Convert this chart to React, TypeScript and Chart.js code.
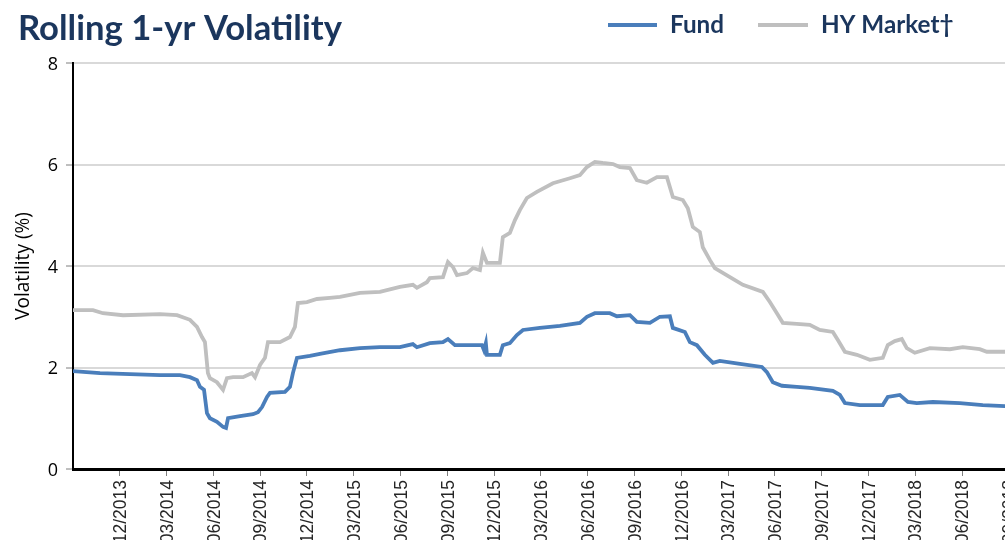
import React, { useEffect, useRef } from 'react';
import { Chart, registerables } from 'chart.js';

Chart.register(...registerables);

const TITLE = 'Rolling 1-yr Volatility';
const SERIES_NAMES = ['Fund', 'HY Market†'];
const Y_TITLE = 'Volatility (%)';

// x = months since end of 09/2013
const xTickLabels = [
  '12/2013', '03/2014', '06/2014', '09/2014', '12/2014', '03/2015', '06/2015',
  '09/2015', '12/2015', '03/2016', '06/2016', '09/2016', '12/2016', '03/2017',
  '06/2017', '09/2017', '12/2017', '03/2018', '06/2018', '09/2018',
];

const fundMonths = [
  0, 1.73, 3.65, 5.58, 6.86, 7.5, 7.95, 8.14, 8.4, 8.59, 8.78, 9.23, 9.62, 9.81, 9.94,
  10.71, 11.54, 11.86, 12.12, 12.44, 12.63, 13.59, 13.91, 14.1, 14.36, 15.19, 15.83,
  17.12, 18.4, 19.68, 20.96, 21.79, 22.05, 22.88, 23.72, 24.04, 24.49, 26.22, 26.35,
  26.47, 26.54, 27.37, 27.56, 28.01, 28.46, 28.85, 29.94, 31.22, 32.5, 32.95, 33.46,
  34.42, 34.87, 35.71, 36.15, 36.99, 37.63, 38.27, 38.46, 39.23, 39.55, 40.0, 40.51,
  41.03, 41.47, 42.76, 44.17, 44.49, 44.87, 45.45, 46.41, 47.24, 48.72, 49.17, 49.49,
  50.45, 51.92, 52.24, 53.01, 53.53, 54.1, 55.13, 56.86, 58.33, 59.74, 61, 62,
];
const fundValues = [
  1.93, 1.89, 1.87, 1.85, 1.85, 1.81, 1.75, 1.62, 1.56, 1.1, 1.0, 0.93, 0.83, 0.81, 1.0,
  1.04, 1.08, 1.12, 1.22, 1.42, 1.5, 1.52, 1.62, 1.89, 2.19, 2.23, 2.27,
  2.34, 2.38, 2.4, 2.4, 2.46, 2.4, 2.48, 2.5, 2.56, 2.44, 2.44, 2.34,
  2.48, 2.25, 2.25, 2.44, 2.48, 2.64, 2.74, 2.78, 2.82, 2.88, 3.0, 3.07,
  3.07, 3.01, 3.03, 2.9, 2.88, 3.0, 3.01, 2.78, 2.7, 2.5, 2.44, 2.25,
  2.09, 2.13, 2.07, 2.01, 1.91, 1.71, 1.64, 1.62, 1.6, 1.54, 1.46, 1.3,
  1.26, 1.26, 1.42, 1.46, 1.32, 1.3, 1.32, 1.3, 1.26, 1.24, 1.24, 1.24,
];

const hyMonths = [
  0, 1.28, 1.92, 3.21, 5.58, 6.67, 7.5, 7.95, 8.27, 8.46, 8.65, 8.78, 9.23, 9.62, 9.87,
  10.26, 10.9, 11.47, 11.67, 11.99, 12.31, 12.5, 13.27, 13.91, 14.23, 14.42, 15.0,
  15.64, 16.47, 17.12, 18.4, 19.68, 20.96, 21.79, 22.05, 22.69, 22.88, 23.72, 24.04,
  24.36, 24.62, 25.26, 25.64, 26.09, 26.28, 26.54, 27.37, 27.56, 28.01, 28.33, 28.65,
  29.1, 29.74, 30.77, 31.86, 32.5, 32.95, 33.46, 33.97, 34.62, 35.06, 35.71, 36.15,
  36.79, 37.44, 38.08, 38.46, 39.1, 39.42, 39.74, 40.19, 40.38, 40.83, 41.15, 42.12,
  42.95, 44.23, 44.68, 45.13, 45.51, 46.41, 47.24, 47.88, 48.72, 49.04, 49.49, 50.26,
  51.09, 51.92, 52.24, 52.69, 53.14, 53.46, 53.97, 54.94, 56.22, 57.05, 58.14, 58.59,
  59.74, 61, 62,
];
const hyValues = [
  3.13, 3.13, 3.07, 3.03, 3.05, 3.03, 2.94, 2.8, 2.6, 2.5, 1.89, 1.79, 1.71, 1.56, 1.79,
  1.81, 1.81, 1.89, 1.81, 2.05, 2.19, 2.5, 2.5, 2.6, 2.8, 3.27, 3.29,
  3.35, 3.37, 3.39, 3.47, 3.49, 3.59, 3.63, 3.57, 3.68, 3.76, 3.78, 4.08,
  3.98, 3.82, 3.86, 3.96, 3.92, 4.26, 4.06, 4.06, 4.57, 4.65, 4.9, 5.1,
  5.34, 5.46, 5.63, 5.73, 5.79, 5.95, 6.05, 6.03, 6.01, 5.95, 5.93, 5.69,
  5.64, 5.75, 5.75, 5.36, 5.3, 5.14, 4.77, 4.67, 4.37, 4.12, 3.96, 3.78,
  3.63, 3.49, 3.29, 3.07, 2.88, 2.86, 2.84, 2.74, 2.7, 2.54, 2.31, 2.25,
  2.15, 2.19, 2.44, 2.52, 2.56, 2.38, 2.29, 2.38, 2.36, 2.4, 2.36, 2.31,
  2.31, 2.31, 2.31,
];

const NAVY = '#1B365D';
const FUND_COLOR = '#4A7EBB';
const HY_COLOR = '#BFBFBF';

function fitSize(ctx: CanvasRenderingContext2D, text: string, font: string, target: number) {
  ctx.font = `100px ${font}`;
  const w = ctx.measureText(text).width;
  return (100 * target) / w;
}

// Draws title, legend, axis tick labels and axis title
const textPlugin = {
  id: 'texts',
  afterDraw(chart: any) {
    const ctx: CanvasRenderingContext2D = chart.ctx;
    const xs = chart.scales.x;
    const ys = chart.scales.y;
    const area = chart.chartArea;
    ctx.save();
    ctx.textAlign = 'left';
    ctx.textBaseline = 'alphabetic';

    // title
    ctx.fillStyle = NAVY;
    ctx.font = 'bold 100px Lato';
    const ts = (100 * 324) / ctx.measureText(TITLE).width;
    ctx.font = `bold ${ts}px Lato`;
    ctx.fillText(TITLE, 18, 40);

    // legend
    const items = [
      { name: SERIES_NAMES[0], color: FUND_COLOR, x0: 608, x1: 657, tx: 670 },
      { name: SERIES_NAMES[1], color: HY_COLOR, x0: 758, x1: 808, tx: 821 },
    ];
    ctx.font = 'bold 100px Lato';
    const lSize = (100 * 54) / ctx.measureText(SERIES_NAMES[0]).width;
    items.forEach((it) => {
      ctx.strokeStyle = it.color;
      ctx.lineWidth = 4;
      ctx.beginPath();
      ctx.moveTo(it.x0, 25);
      ctx.lineTo(it.x1, 25);
      ctx.stroke();
      ctx.fillStyle = NAVY;
      ctx.font = `bold ${lSize}px Lato`;
      ctx.fillText(it.name, it.tx, 33);
    });

    // y tick labels
    ctx.fillStyle = '#000000';
    ctx.font = "18px 'Open Sans'";
    ctx.textAlign = 'right';
    ctx.textBaseline = 'alphabetic';
    ys.ticks.forEach((t: any) => {
      ctx.fillText(String(t.value), area.left - 15, ys.getPixelForValue(t.value) + 6.5);
    });

    // y axis title
    const yTitleSize = fitSize(ctx, Y_TITLE, "'Open Sans'", 108);
    ctx.save();
    ctx.translate(22.5 + 0.36 * yTitleSize, (area.top + area.bottom) / 2);
    ctx.rotate(-Math.PI / 2);
    ctx.textAlign = 'center';
    ctx.textBaseline = 'alphabetic';
    ctx.font = `${yTitleSize}px 'Open Sans'`;
    ctx.fillText(Y_TITLE, 0, 0);
    ctx.restore();

    // x tick labels (rotated, reading bottom to top)
    ctx.fillStyle = '#262626';
    const xSize = 17.5;
    ctx.font = `${xSize}px 'Liberation Sans'`;
    xTickLabels.forEach((lab, i) => {
      const px = xs.getPixelForValue((i + 1) * 3);
      ctx.save();
      ctx.translate(px + 0.358 * xSize, area.bottom + 11);
      ctx.rotate(-Math.PI / 2);
      ctx.textAlign = 'right';
      ctx.textBaseline = 'alphabetic';
      ctx.fillText(lab, 0, 0);
      ctx.restore();
    });
    ctx.restore();
  },
};

export default function App() {
  const ref = useRef<HTMLCanvasElement | null>(null);

  useEffect(() => {
    if (!ref.current) return;
    const chart = new Chart(ref.current, {
      type: 'line',
      data: {
        datasets: [
          {
            label: SERIES_NAMES[1],
            data: hyMonths.map((m, i) => ({ x: m, y: hyValues[i] })),
            borderColor: HY_COLOR,
            borderWidth: 3.8,
            pointRadius: 0,
            tension: 0,
          },
          {
            label: SERIES_NAMES[0],
            data: fundMonths.map((m, i) => ({ x: m, y: fundValues[i] })),
            borderColor: FUND_COLOR,
            borderWidth: 3.8,
            pointRadius: 0,
            tension: 0,
          },
        ],
      },
      options: {
        animation: false,
        responsive: false,
        layout: { padding: { top: 63, left: 0, right: 5, bottom: 0 } },
        plugins: {
          legend: { display: false },
          title: { display: false },
          tooltip: { enabled: false },
        },
        scales: {
          x: {
            type: 'linear',
            min: 0,
            max: 62,
            afterFit: (s: any) => {
              s.height = 71;
            },
            ticks: {
              stepSize: 3,
              includeBounds: false,
              autoSkip: false,
              maxRotation: 90,
              minRotation: 90,
              color: 'rgba(0,0,0,0)',
              callback: (v: any) => {
                const n = Number(v);
                if (n <= 0 || n % 3 !== 0) return null;
                return xTickLabels[n / 3 - 1] ?? null;
              },
            },
            grid: {
              drawOnChartArea: false,
              drawTicks: true,
              tickLength: 7,
              tickColor: '#7F7F7F',
              tickWidth: 1,
            },
            border: { color: '#000000', width: 3 },
          },
          y: {
            min: 0,
            max: 8,
            afterFit: (s: any) => {
              s.width = 73;
            },
            ticks: {
              stepSize: 2,
              color: 'rgba(0,0,0,0)',
            },
            grid: {
              color: '#D9D9D9',
              lineWidth: 2,
              drawTicks: true,
              tickLength: 7,
              tickColor: '#7F7F7F',
              tickWidth: 1,
            },
            border: { color: '#000000', width: 2 },
          },
        },
      } as any,
      plugins: [textPlugin],
    });
    return () => chart.destroy();
  }, []);

  return (
    <div
      style={{
        position: 'fixed',
        left: 0,
        top: 0,
        width: 1005,
        height: 540,
        overflow: 'hidden',
        background: '#ffffff',
      }}
    >
      <canvas ref={ref} width={1045} height={540} style={{ width: 1045, height: 540, display: 'block' }} />
    </div>
  );
}
